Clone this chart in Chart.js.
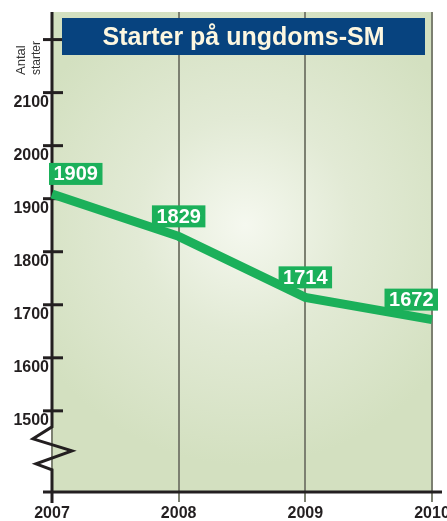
<!DOCTYPE html>
<html>
<head>
<meta charset="utf-8">
<script src="https://cdn.jsdelivr.net/npm/chart.js@4/dist/chart.umd.min.js"></script>
<style>
  html, body { margin: 0; padding: 0; background: #fff; }
  canvas { display: block; }
</style>
</head>
<body>
<canvas id="grafico" width="447" height="521"></canvas>
<script>
// Datos
const years = ['2007', '2008', '2009', '2010'];
const starter = [1909, 1829, 1714, 1672];
const yTicks = [1500, 1600, 1700, 1800, 1900, 2000, 2100, 2200];
const yLabeled = [1500, 1600, 1700, 1800, 1900, 2000, 2100];
const titulo = 'Starter på ungdoms-SM';
const tituloEje = ['Antal', 'starter'];

const VERDE = '#1bb05a';
const NEGRO = '#231f20';
const FUENTE = '"Liberation Sans", Arial, sans-serif';

// --- Fondo verde con brillo central ---
const fondo = {
    id: 'fondo',
    beforeDraw(chart) {
        const { ctx, chartArea: a } = chart;
        const g = ctx.createRadialGradient(245, 225, 0, 245, 225, 240);
        g.addColorStop(0, '#f5f8ef');
        g.addColorStop(0.45, '#e2ead5');
        g.addColorStop(1, '#d3e0c0');
        ctx.save();
        ctx.fillStyle = g;
        ctx.fillRect(a.left, a.top, a.right - a.left, a.bottom - a.top);
        ctx.restore();
    }
};

// --- Ejes negros, marcas y corte en zigzag ---
const ejes = {
    id: 'ejes',
    beforeDatasetsDraw(chart) {
        const { ctx, chartArea: a, scales } = chart;
        const x0 = a.left;
        ctx.save();
        ctx.strokeStyle = NEGRO;
        ctx.lineWidth = 3;
        ctx.lineJoin = 'miter';

        // marcas del eje Y (cruzan el eje)
        yTicks.forEach(v => {
            const y = scales.y.getPixelForValue(v);
            ctx.beginPath();
            ctx.moveTo(x0 - 9, y);
            ctx.lineTo(x0 + 11, y);
            ctx.stroke();
        });

        // eje Y con corte
        const p = scales.y.getPixelForValue(1500);
        ctx.beginPath();
        ctx.moveTo(x0, a.top);
        ctx.lineTo(x0, p + 16);
        ctx.lineTo(x0 - 19, p + 28);
        ctx.lineTo(x0 + 20, p + 40);
        ctx.lineTo(x0 - 16, p + 53);
        ctx.lineTo(x0, p + 59);
        ctx.lineTo(x0, a.bottom + 11);
        ctx.stroke();

        // eje X
        ctx.beginPath();
        ctx.moveTo(x0 - 9, a.bottom);
        ctx.lineTo(a.right + 10, a.bottom);
        ctx.stroke();
        ctx.restore();
    }
};

// --- Recuadros con los valores ---
const etiquetas = {
    id: 'etiquetas',
    afterDatasetsDraw(chart) {
        const { ctx, chartArea: a } = chart;
        const meta = chart.getDatasetMeta(0);
        ctx.save();
        ctx.font = 'bold 20px ' + FUENTE;
        ctx.textAlign = 'center';
        ctx.textBaseline = 'middle';
        meta.data.forEach((pt, i) => {
            const txt = String(starter[i]);
            const w = ctx.measureText(txt).width + 9;
            const h = 22;
            let cx = pt.x;
            cx = Math.max(cx, a.left - 3 + w / 2);
            cx = Math.min(cx, a.right + 6 - w / 2);
            const bottom = pt.y - 9;
            ctx.fillStyle = VERDE;
            ctx.fillRect(cx - w / 2, bottom - h, w, h);
            ctx.fillStyle = '#ffffff';
            ctx.fillText(txt, cx, bottom - h / 2 + 1);
        });
        ctx.restore();
    }
};

// --- Título en recuadro azul y título del eje ---
const rubrica = {
    id: 'rubrica',
    afterDraw(chart) {
        const { ctx } = chart;
        ctx.save();
        ctx.fillStyle = '#07437f';
        ctx.fillRect(62, 18, 363, 37);
        ctx.fillStyle = '#fdf7e0';
        ctx.font = 'bold 25px ' + FUENTE;
        ctx.textAlign = 'center';
        ctx.textBaseline = 'alphabetic';
        ctx.fillText(titulo, 243.5, 45);

        ctx.fillStyle = '#333333';
        ctx.textAlign = 'left';
        ctx.translate(0, 75);
        ctx.rotate(-Math.PI / 2);
        ctx.font = '13px ' + FUENTE;
        ctx.fillText(tituloEje[0], 0, 25);
        ctx.font = '12px ' + FUENTE;
        ctx.fillText(tituloEje[1], 0, 40);
        ctx.restore();
    }
};

new Chart(document.getElementById('grafico'), {
    type: 'line',
    data: {
        labels: years,
        datasets: [{
            data: starter,
            borderColor: VERDE,
            borderWidth: 9,
            pointRadius: 0,
            tension: 0,
            borderCapStyle: 'butt',
            clip: false
        }]
    },
    options: {
        responsive: false,
        animation: false,
        layout: { padding: { top: 12, right: 15, left: 0, bottom: 0 } },
        plugins: {
            legend: { display: false },
            tooltip: { enabled: false }
        },
        scales: {
            x: {
                type: 'category',
                offset: false,
                border: { display: false },
                grid: {
                    color: '#7c8071',
                    lineWidth: 2,
                    drawTicks: true,
                    tickLength: 10,
                    tickColor: '#7c8071'
                },
                ticks: {
                    color: NEGRO,
                    font: { family: FUENTE, size: 16, weight: 'bold' },
                    padding: 2,
                    maxRotation: 0,
                    autoSkip: false
                },
                afterFit(scale) {
                    scale.height = 29;
                    scale.paddingLeft = 0;
                    scale.paddingRight = 0;
                }
            },
            y: {
                min: 1347,
                max: 2252,
                border: { display: false },
                grid: { display: false, drawTicks: false },
                ticks: {
                    color: NEGRO,
                    font: { family: FUENTE, size: 16, weight: 'bold' },
                    padding: 3,
                    labelOffset: 10,
                    callback: v => yLabeled.includes(v) ? String(v) : ''
                },
                afterBuildTicks(scale) {
                    scale.ticks = yTicks.map(v => ({ value: v }));
                },
                afterFit(scale) {
                    scale.width = 52;
                    scale.paddingTop = 0;
                    scale.paddingBottom = 0;
                }
            }
        }
    },
    plugins: [fondo, ejes, etiquetas, rubrica]
});
</script>
</body>
</html>
